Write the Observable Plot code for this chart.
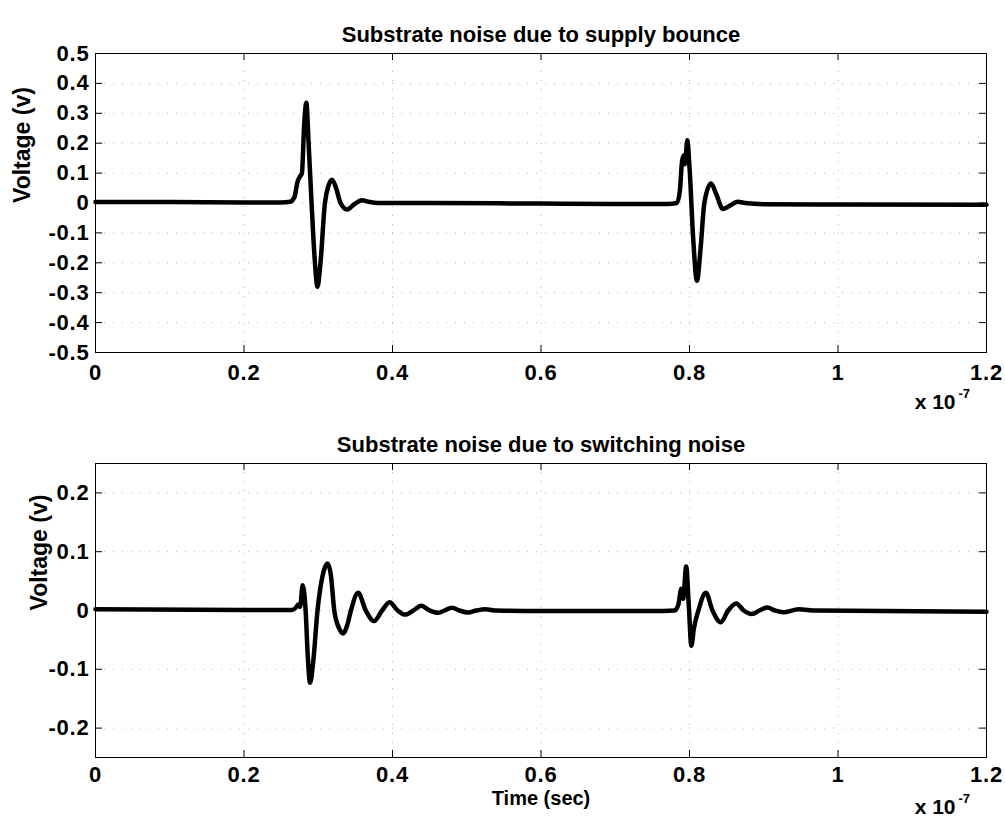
<!DOCTYPE html>
<html>
<head>
<meta charset="utf-8">
<script src="https://cdn.jsdelivr.net/npm/d3@7"></script>
<script src="https://cdn.jsdelivr.net/npm/@observablehq/plot@0.6"></script>
<style>
  html, body { margin: 0; padding: 0; background: #fff; }
  #chart svg { display: block; overflow: visible; }
</style>
</head>
<body>
<div id="chart"></div>
<script>
// Time in units of 1e-7 s
const xTicks = [0, 0.2, 0.4, 0.6, 0.8, 1, 1.2];
const yTicksTop = [-0.5, -0.4, -0.3, -0.2, -0.1, 0, 0.1, 0.2, 0.3, 0.4, 0.5];
const yTicksBottom = [-0.2, -0.1, 0, 0.1, 0.2];

// Top: supply bounce
const tTop = [0, 0.1, 0.2, 0.25, 0.262, 0.268, 0.272, 0.275, 0.278, 0.281, 0.284, 0.287, 0.291, 0.295, 0.299, 0.303, 0.309, 0.314, 0.3186, 0.324, 0.33, 0.339, 0.348, 0.359, 0.368, 0.38, 0.45, 0.6, 0.7, 0.77, 0.783, 0.787, 0.790, 0.7925, 0.794, 0.797, 0.800, 0.805, 0.810, 0.815, 0.82, 0.829, 0.836, 0.845, 0.855, 0.865, 0.875, 0.9, 1.0, 1.2];
const vTop = [0.003, 0.003, 0.002, 0.002, 0.004, 0.02, 0.07, 0.087, 0.1, 0.26, 0.335, 0.2, 0.0, -0.18, -0.28, -0.2, 0.0, 0.06, 0.078, 0.05, 0.0, -0.022, -0.005, 0.009, 0.004, 0.0, 0.0, -0.002, -0.003, -0.003, 0.0, 0.04, 0.14, 0.16, 0.13, 0.21, 0.12, -0.12, -0.26, -0.15, 0.0, 0.065, 0.03, -0.02, -0.008, 0.004, 0.0, -0.004, -0.005, -0.006];

// Bottom: switching noise
const tBot = [0, 0.2, 0.265, 0.27, 0.273, 0.2755, 0.279, 0.283, 0.286, 0.289, 0.293, 0.299, 0.306, 0.3126, 0.317, 0.3216, 0.328, 0.3336, 0.339, 0.344, 0.3537, 0.364, 0.375, 0.386, 0.396, 0.407, 0.417, 0.428, 0.4387, 0.45, 0.461, 0.47, 0.48, 0.49, 0.5017, 0.513, 0.525, 0.54, 0.6, 0.75, 0.78, 0.785, 0.789, 0.7915, 0.7955, 0.799, 0.8025, 0.806, 0.812, 0.822, 0.831, 0.842, 0.852, 0.863, 0.873, 0.884, 0.894, 0.905, 0.915, 0.926, 0.947, 0.97, 1.2];
const vBot = [0.002, 0.001, 0.001, 0.005, 0.01, 0.006, 0.043, 0.0, -0.08, -0.123, -0.09, 0.0, 0.06, 0.08, 0.06, 0.0, -0.03, -0.039, -0.025, 0.0, 0.03, 0.0, -0.018, 0.0, 0.014, 0.0, -0.007, 0.0, 0.008, 0.0, -0.004, 0.0, 0.0046, 0.0, -0.0034, 0.0, 0.002, 0.0, -0.001, -0.001, 0.0, 0.01, 0.037, 0.02, 0.075, 0.01, -0.06, -0.03, 0.0, 0.03, 0.0, -0.02, 0.0, 0.012, 0.0, -0.006, 0.0, 0.005, 0.0, -0.003, 0.002, 0.0, -0.002];

const fmtX = d => d === 0 ? "0" : String(d);
const fmtY = d => Math.abs(d) < 1e-9 ? "0" : d.toFixed(1);

function panel({t, v, yDomain, yTicks, title, height, marginTop, marginBottom, yLabelDx, xLabel, xPad}) {
  const data = t.map((x, i) => ({t: x, v: v[i]}));
  const marginLeft = 95, marginRight = 19, width = 1005;
  const xDomain = [0, 1.2];
  const plotW = width - marginLeft - marginRight;
  const plotH = height - marginTop - marginBottom;
  const kx = 7 * (xDomain[1] - xDomain[0]) / plotW;
  const ky = 7 * (yDomain[1] - yDomain[0]) / plotH;
  const grid = {stroke: "#a0a0a0", strokeWidth: 1, strokeDasharray: "1,8", strokeOpacity: 0.8};
  const marks = [
    Plot.ruleY(yTicks, grid),
    Plot.ruleX(xTicks, grid),
    Plot.ruleY(yTicks, {x1: xDomain[0], x2: xDomain[0] + kx, stroke: "black"}),
    Plot.ruleY(yTicks, {x1: xDomain[1] - kx, x2: xDomain[1], stroke: "black"}),
    Plot.ruleX(xTicks, {y1: yDomain[0], y2: yDomain[0] + ky, stroke: "black"}),
    Plot.ruleX(xTicks, {y1: yDomain[1] - ky, y2: yDomain[1], stroke: "black"}),
    Plot.line(data, {x: "t", y: "v", stroke: "black", strokeWidth: 4.5, curve: "monotone-x", strokeLinejoin: "round"}),
    Plot.frame({stroke: "black", strokeWidth: 1}),
    Plot.axisY(yTicks, {tickSize: 0, tickPadding: 6, tickFormat: fmtY, label: null, fontSize: 22}),
    Plot.axisX(xTicks, {tickSize: 0, tickPadding: xPad, tickFormat: fmtX, label: null, fontSize: 22}),
    Plot.text([title], {frameAnchor: "top", dy: -27, fontSize: 22, fontWeight: "bold", ariaLabel: "ptitle"}),
    Plot.text(["Voltage (v)"], {frameAnchor: "left", rotate: -90, dx: yLabelDx, fontSize: 23, fontWeight: "bold", ariaLabel: "ylab"}),
    Plot.text(["x 10"], {frameAnchor: "bottom-right", textAnchor: "end", dx: -31, dy: 56, fontSize: 21, fontWeight: "bold", ariaLabel: "exp"}),
    Plot.text(["-7"], {frameAnchor: "bottom-right", textAnchor: "start", dx: -28, dy: 45, fontSize: 13, fontWeight: "bold"})
  ];
  if (xLabel) marks.push(Plot.text([xLabel], {frameAnchor: "bottom", dy: 47, fontSize: 20, fontWeight: "bold", ariaLabel: "xlab"}));
  const svg = Plot.plot({
    width, height, marginTop, marginBottom, marginLeft, marginRight,
    style: {fontFamily: "'Liberation Sans', Arial, sans-serif", fontWeight: "bold", fontSize: "22px", color: "black", background: "white", overflow: "visible"},
    x: {domain: xDomain, axis: null},
    y: {domain: yDomain, axis: null},
    marks
  });
  const s = d3.select(svg);
  s.selectAll('g[aria-label="ptitle"] text').attr("letter-spacing", "1.1px");
  s.selectAll('g[aria-label="ylab"] text').attr("letter-spacing", "1px");
  s.selectAll('g[aria-label="xlab"] text').attr("letter-spacing", "1.2px");
  s.selectAll('g[aria-label="exp"] text').attr("letter-spacing", "1.2px");
  s.selectAll('g[aria-label="y-axis tick label"] text, g[aria-label="x-axis tick label"] text').attr("letter-spacing", "0.8px");
  return svg;
}

const chart = document.getElementById("chart");
chart.append(panel({t: tTop, v: vTop, yDomain: [-0.5, 0.5], yTicks: yTicksTop,
  title: "Substrate noise due to supply bounce", height: 420, marginTop: 53, marginBottom: 68, yLabelDx: -73, xPad: 12}));
chart.append(panel({t: tBot, v: vBot, yDomain: [-0.25, 0.25], yTicks: yTicksBottom,
  title: "Substrate noise due to switching noise", height: 408, marginTop: 43, marginBottom: 71, yLabelDx: -56, xLabel: "Time (sec)", xPad: 9}));
</script>
</body>
</html>
